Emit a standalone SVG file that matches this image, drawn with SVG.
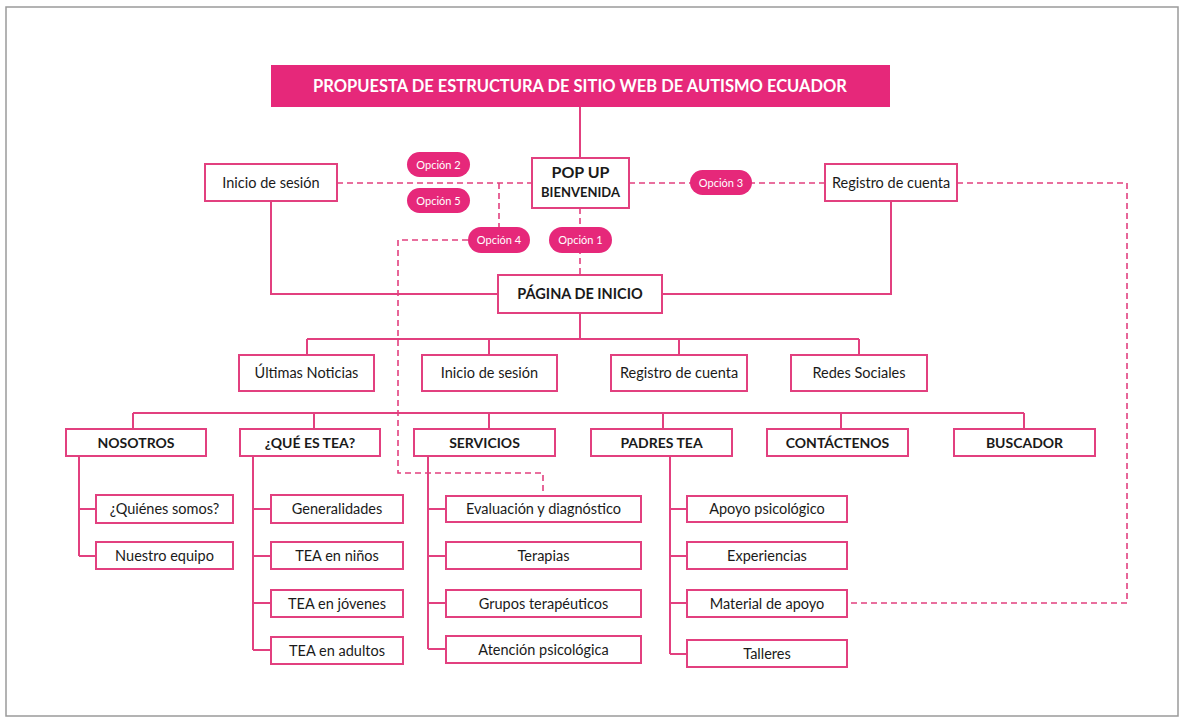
<svg xmlns="http://www.w3.org/2000/svg" width="1184" height="722" viewBox="0 0 1184 722">
<style>
.box{fill:#fff;stroke:#E2407F;stroke-width:2}
.pill{fill:#E6287A}
.ln{fill:none;stroke:#E2407F;stroke-width:2}
.dash{fill:none;stroke:#E2407F;stroke-width:1.6;stroke-dasharray:6 4}
text{font-family:Lato,"Open Sans","Liberation Sans",sans-serif;text-anchor:middle;fill:#1a1a1a}
.t{font-size:14.5px}
.b{font-size:14px;font-weight:bold}
.o{font-size:11px;fill:#fff}
</style>
<rect x="0" y="0" width="1184" height="722" fill="#fff"/>
<rect x="6" y="7" width="1172" height="709" fill="none" stroke="#9a9a9a" stroke-width="1.5"/>
<g id="connectors">
<path class="ln" d="M580 107V158"/>
<path class="ln" d="M271 201V294H498"/>
<path class="ln" d="M891 201V294H662"/>
<path class="ln" d="M580 313V339M307 339H859M307 339V355M489 339V355M679 339V355M859 339V355"/>
<path class="ln" d="M133 413H1024M133 413V429M314 413V429M489 413V429M663 413V429M841 413V429M1024 413V429"/>
<path class="ln" d="M79 456V556M79 509H96M79 556H96"/>
<path class="ln" d="M253 456V650M253 509H271M253 556H271M253 603H271M253 650H271"/>
<path class="ln" d="M428 456V649M428 509H446M428 556H446M428 603H446M428 649H446"/>
<path class="ln" d="M670 456V654M670 509H687M670 556H687M670 603H687M670 654H687"/>
<path class="dash" d="M337 183H532"/>
<path class="dash" d="M499 183V227"/>
<path class="dash" d="M468 240H398V473H543V496"/>
<path class="dash" d="M629 183H825"/>
<path class="dash" d="M957 183H1127V603H847"/>
<path class="dash" d="M580 208V275"/>
</g>
<g id="title"><rect x="271" y="65" width="619" height="42" fill="#E6287A"/><text x="580" y="92" style="font-size:16.5px;font-weight:bold;fill:#fff">PROPUESTA DE ESTRUCTURA DE SITIO WEB DE AUTISMO ECUADOR</text></g>
<g id="popup"><rect class="box" x="532" y="158" width="97" height="50"/><text x="580.5" y="178" style="font-size:16px;font-weight:bold">POP UP</text><text x="580.5" y="197" style="font-size:13px;font-weight:bold">BIENVENIDA</text></g>
<g id="inicio-top"><rect class="box" x="205" y="164" width="132" height="37"/><text class="t" x="271" y="188">Inicio de sesión</text></g>
<g id="registro-top"><rect class="box" x="825" y="164" width="132" height="37"/><text class="t" x="891" y="188">Registro de cuenta</text></g>
<g id="opcion2"><rect class="pill" x="407" y="152" width="63" height="25" rx="12.5"/><text class="o" x="438.5" y="168.5">Opción 2</text></g>
<g id="opcion5"><rect class="pill" x="407" y="188" width="63" height="25" rx="12.5"/><text class="o" x="438.5" y="204.5">Opción 5</text></g>
<g id="opcion4"><rect class="pill" x="468" y="227" width="62" height="26" rx="13"/><text class="o" x="499" y="244">Opción 4</text></g>
<g id="opcion1"><rect class="pill" x="549" y="227" width="63" height="26" rx="13"/><text class="o" x="580.5" y="244">Opción 1</text></g>
<g id="opcion3"><rect class="pill" x="690" y="170" width="62" height="25" rx="12.5"/><text class="o" x="721" y="186.5">Opción 3</text></g>
<g id="pagina"><rect class="box" x="498" y="275" width="164" height="38"/><text x="580" y="299" style="font-size:14.5px;font-weight:bold">PÁGINA DE INICIO</text></g>
<g id="ultimas"><rect class="box" x="239" y="355" width="135" height="36"/><text class="t" x="306.5" y="378">Últimas Noticias</text></g>
<g id="inicio-2"><rect class="box" x="422" y="355" width="135" height="36"/><text class="t" x="489.5" y="378">Inicio de sesión</text></g>
<g id="registro-2"><rect class="box" x="611" y="355" width="136" height="36"/><text class="t" x="679" y="378">Registro de cuenta</text></g>
<g id="redes"><rect class="box" x="791" y="355" width="136" height="36"/><text class="t" x="859" y="378">Redes Sociales</text></g>
<g id="nosotros"><rect class="box" x="66" y="429" width="140" height="27"/><text class="b" x="136" y="447.5">NOSOTROS</text></g>
<g id="quees"><rect class="box" x="240" y="429" width="140" height="27"/><text class="b" x="310" y="447.5">¿QUÉ ES TEA?</text></g>
<g id="servicios"><rect class="box" x="414" y="429" width="141" height="27"/><text class="b" x="484.5" y="447.5">SERVICIOS</text></g>
<g id="padres"><rect class="box" x="591" y="429" width="141" height="27"/><text class="b" x="661.5" y="447.5">PADRES TEA</text></g>
<g id="contactenos"><rect class="box" x="767" y="429" width="141" height="27"/><text class="b" x="837.5" y="447.5">CONTÁCTENOS</text></g>
<g id="buscador"><rect class="box" x="954" y="429" width="141" height="27"/><text class="b" x="1024.5" y="447.5">BUSCADOR</text></g>
<g id="quienes"><rect class="box" x="96" y="495" width="137" height="28"/><text class="t" x="164.5" y="514">¿Quiénes somos?</text></g>
<g id="equipo"><rect class="box" x="96" y="542" width="137" height="27"/><text class="t" x="164.5" y="561">Nuestro equipo</text></g>
<g id="generalidades"><rect class="box" x="271" y="495" width="132" height="28"/><text class="t" x="337" y="514">Generalidades</text></g>
<g id="ninos"><rect class="box" x="271" y="542" width="132" height="27"/><text class="t" x="337" y="561">TEA en niños</text></g>
<g id="jovenes"><rect class="box" x="271" y="590" width="132" height="27"/><text class="t" x="337" y="609">TEA en jóvenes</text></g>
<g id="adultos"><rect class="box" x="271" y="637" width="132" height="27"/><text class="t" x="337" y="656">TEA en adultos</text></g>
<g id="evaluacion"><rect class="box" x="446" y="496" width="195" height="26"/><text class="t" x="543.5" y="514">Evaluación y diagnóstico</text></g>
<g id="terapias"><rect class="box" x="446" y="542" width="195" height="27"/><text class="t" x="543.5" y="561">Terapias</text></g>
<g id="grupos"><rect class="box" x="446" y="590" width="195" height="27"/><text class="t" x="543.5" y="609">Grupos terapéuticos</text></g>
<g id="atencion"><rect class="box" x="446" y="636" width="195" height="27"/><text class="t" x="543.5" y="655">Atención psicológica</text></g>
<g id="apoyo"><rect class="box" x="687" y="496" width="160" height="26"/><text class="t" x="767" y="514">Apoyo psicológico</text></g>
<g id="experiencias"><rect class="box" x="687" y="542" width="160" height="27"/><text class="t" x="767" y="561">Experiencias</text></g>
<g id="material"><rect class="box" x="687" y="590" width="160" height="27"/><text class="t" x="767" y="609">Material de apoyo</text></g>
<g id="talleres"><rect class="box" x="687" y="640" width="160" height="27"/><text class="t" x="767" y="659">Talleres</text></g>
</svg>
